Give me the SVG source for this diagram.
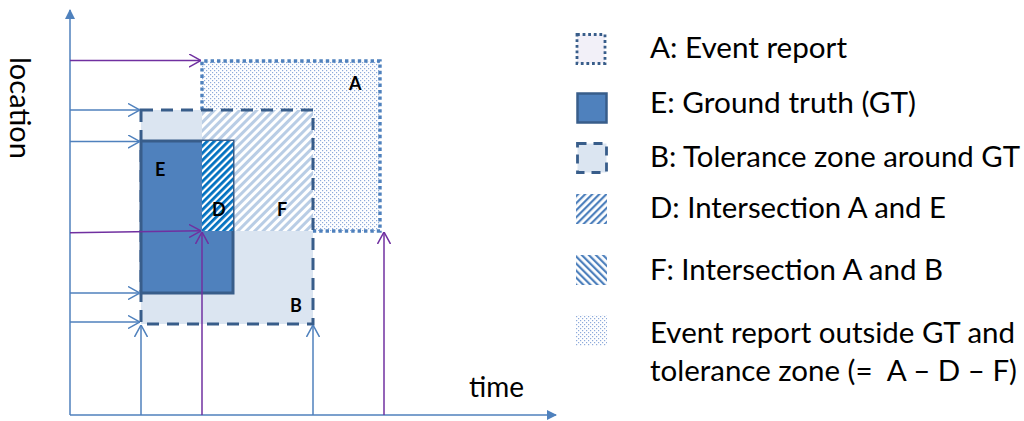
<svg xmlns="http://www.w3.org/2000/svg" width="1024" height="421" viewBox="0 0 1024 421">
<style>
  .lbl{font-family:Lato,"Open Sans",sans-serif;font-size:28px;fill:#000;white-space:pre}
  .tag{font-family:Lato,"Open Sans",sans-serif;font-size:18px;font-weight:bold;fill:#000}
  .ax{stroke:#4f81bd;stroke-width:1.5;fill:none}
  .blue{stroke:#4f81bd;stroke-width:1.5;fill:none;marker-end:url(#hb)}
  .purp{stroke:#7030a0;stroke-width:1.5;fill:none;marker-end:url(#hp)}
</style>
<defs>
  <marker id="hb" viewBox="0 0 12 14" refX="12" refY="7" markerWidth="12" markerHeight="14" orient="auto" markerUnits="userSpaceOnUse">
    <path d="M0,0.5 L12,7 L0,13.5" fill="none" stroke="#4f81bd" stroke-width="1.5"/>
  </marker>
  <marker id="hp" viewBox="0 0 12 14" refX="12" refY="7" markerWidth="12" markerHeight="14" orient="auto" markerUnits="userSpaceOnUse">
    <path d="M0,0.5 L12,7 L0,13.5" fill="none" stroke="#7030a0" stroke-width="1.5"/>
  </marker>
  <marker id="tri" viewBox="0 0 10 10" refX="9" refY="5" markerWidth="10" markerHeight="10" orient="auto" markerUnits="userSpaceOnUse">
    <path d="M0,0 L10,5 L0,10 Z" fill="#4f81bd"/>
  </marker>
  <pattern id="dots" width="4" height="4" patternUnits="userSpaceOnUse">
    <rect width="4" height="4" fill="#ffffff"/>
    <rect x="0" y="0" width="1.2" height="1.2" fill="#8eaadb"/>
    <rect x="2" y="2" width="1.2" height="1.2" fill="#8eaadb"/>
  </pattern>
  <pattern id="hatchF" width="6" height="6" patternUnits="userSpaceOnUse" patternTransform="rotate(45)">
    <rect width="6" height="6" fill="#ffffff"/>
    <rect width="3" height="6" fill="#b9cde5"/>
  </pattern>
  <pattern id="hatchD" width="5" height="5" patternUnits="userSpaceOnUse" patternTransform="rotate(45)">
    <rect width="5" height="5" fill="#ffffff"/>
    <rect width="2.8" height="5" fill="#0070c0"/>
  </pattern>
  <pattern id="legD" width="5" height="5" patternUnits="userSpaceOnUse" patternTransform="rotate(45)">
    <rect width="5" height="5" fill="#ffffff"/>
    <rect width="2.2" height="5" fill="#4f81bd"/>
  </pattern>
  <pattern id="legF" width="5" height="5" patternUnits="userSpaceOnUse" patternTransform="rotate(-45)">
    <rect width="5" height="5" fill="#ffffff"/>
    <rect width="2.2" height="5" fill="#4f81bd"/>
  </pattern>
</defs>
<rect width="1024" height="421" fill="#ffffff"/>

<g id="zone-B-fill">
  <rect x="141" y="110" width="172" height="214" fill="#dbe5f1"/>
</g>
<g id="region-A-outside">
  <path d="M202,61 H380 V231 H313 V110 H202 Z" fill="url(#dots)"/>
</g>
<g id="region-F">
  <rect x="202" y="110" width="111" height="121" fill="url(#hatchF)"/>
</g>
<g id="node-A-border">
  <path d="M202,110 V61 H380 V231 H313" fill="none" stroke="#4f81bd" stroke-width="3.4" stroke-dasharray="3.4 3"/>
</g>
<g id="node-B-border">
  <rect x="141" y="110" width="172" height="214" fill="none" stroke="#385d8a" stroke-width="3" stroke-dasharray="12 8"/>
</g>
<g id="node-E">
  <rect x="141" y="141" width="92" height="152" fill="#4f81bd" stroke="#385d8a" stroke-width="3"/>
</g>
<g id="region-D">
  <rect x="202" y="141" width="31" height="90" fill="url(#hatchD)"/>
</g>

<g id="labels">
  <text class="tag" x="349" y="90">A</text>
  <text class="tag" x="155" y="176">E</text>
  <text class="tag" x="212" y="216">D</text>
  <text class="tag" x="277" y="216">F</text>
  <text class="tag" x="290" y="312">B</text>
</g>

<g id="connectors">
  <line class="ax" x1="70" y1="415" x2="70" y2="10" marker-end="url(#tri)"/>
  <line class="ax" x1="70" y1="415" x2="556" y2="415" marker-end="url(#tri)"/>
  <line class="purp" x1="70" y1="60.5" x2="201" y2="60.5"/>
  <line class="blue" x1="70" y1="110" x2="140" y2="110"/>
  <line class="blue" x1="70" y1="141.5" x2="140" y2="141.5"/>
  <line class="purp" x1="70" y1="232.7" x2="201" y2="230.8"/>
  <line class="blue" x1="70" y1="293" x2="140" y2="293"/>
  <line class="blue" x1="70" y1="322" x2="140" y2="322"/>
  <line class="blue" x1="141" y1="415" x2="141" y2="325"/>
  <line class="purp" x1="202" y1="415" x2="202" y2="232"/>
  <line class="blue" x1="313" y1="415" x2="313" y2="325"/>
  <line class="purp" x1="384" y1="415" x2="384" y2="232"/>
</g>

<g id="axis-labels">
  <text class="lbl" transform="translate(10,108) rotate(90)" text-anchor="middle" textLength="102" lengthAdjust="spacingAndGlyphs">location</text>
  <text class="lbl" x="469" y="397" textLength="55" lengthAdjust="spacingAndGlyphs">time</text>
</g>

<g id="legend">
  <g id="leg-A">
    <rect x="577" y="34.5" width="28" height="29" fill="#f2f0f8" stroke="#385d8a" stroke-width="2.8" stroke-dasharray="2.8 2.8"/>
    <text class="lbl" x="650" y="58" textLength="197" lengthAdjust="spacingAndGlyphs">A: Event report</text>
  </g>
  <g id="leg-E">
    <rect x="577.5" y="93.5" width="29" height="29" fill="#4f81bd" stroke="#385d8a" stroke-width="2.5"/>
    <text class="lbl" x="650" y="113" textLength="266" lengthAdjust="spacingAndGlyphs">E: Ground truth (GT)</text>
  </g>
  <g id="leg-B">
    <rect x="577.5" y="143.5" width="29" height="29" fill="#dbe5f1" stroke="#385d8a" stroke-width="2.8" stroke-dasharray="9 7"/>
    <text class="lbl" x="650" y="167" textLength="370" lengthAdjust="spacingAndGlyphs">B: Tolerance zone around GT</text>
  </g>
  <g id="leg-D">
    <rect x="576" y="194" width="31" height="30" fill="url(#legD)"/>
    <text class="lbl" x="650" y="218" textLength="296" lengthAdjust="spacingAndGlyphs">D: Intersection A and E</text>
  </g>
  <g id="leg-F">
    <rect x="576" y="255" width="31" height="30" fill="url(#legF)"/>
    <text class="lbl" x="650" y="280" textLength="293" lengthAdjust="spacingAndGlyphs">F: Intersection A and B</text>
  </g>
  <g id="leg-out">
    <rect x="576" y="315" width="31" height="31" fill="url(#dots)"/>
    <text class="lbl" x="650" y="343" textLength="365" lengthAdjust="spacingAndGlyphs">Event report outside GT and</text>
    <text class="lbl" x="650" y="381" textLength="367" lengthAdjust="spacingAndGlyphs">tolerance zone (=  A – D – F)</text>
  </g>
</g>
</svg>
